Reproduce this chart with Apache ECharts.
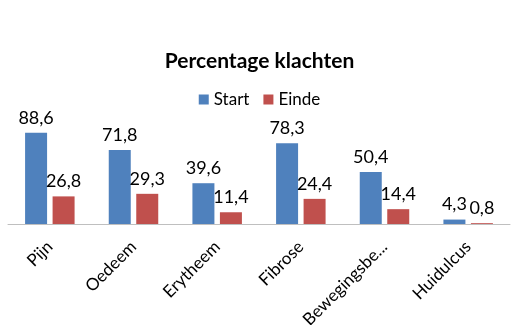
<!DOCTYPE html>
<html>
<head>
<meta charset="utf-8">
<script src="https://cdn.jsdelivr.net/npm/echarts@6/dist/echarts.min.js"></script>
<style>
  html, body { margin: 0; padding: 0; background: #fff; }
  #main { width: 519px; height: 325px; }
</style>
</head>
<body>
<div id="main"></div>
<script>
var categories = ['Pijn', 'Oedeem', 'Erytheem', 'Fibrose', 'Bewegingsbe...', 'Huidulcus'];
var startValues = [88.6, 71.8, 39.6, 78.3, 50.4, 4.3];
var eindeValues = [26.8, 29.3, 11.4, 24.4, 14.4, 0.8];

var font = 'Lato, "Open Sans", sans-serif';

function fmt(p) {
    return String(p.value).replace('.', ',');
}

var myChart = echarts.init(document.getElementById('main'));

option = {
    animation: false,
    textStyle: { fontFamily: font },
    title: {
        text: 'Percentage klachten',
        left: 'center',
        top: 46,
        textStyle: { fontSize: 21, fontWeight: 'bold', color: '#000', fontFamily: font }
    },
    legend: {
        top: 86,
        left: 'center',
        itemWidth: 10,
        itemHeight: 10,
        itemGap: 14,
        icon: 'rect',
        textStyle: { fontSize: 17, color: '#000', fontFamily: font },
        data: ['Start', 'Einde']
    },
    grid: { left: 8, right: 9, top: 121, bottom: 101, containLabel: false, outerBoundsMode: 'none' },
    xAxis: {
        type: 'category',
        data: categories,
        axisLine: { lineStyle: { color: '#bfbfbf' } },
        axisTick: { show: false },
        axisLabel: { rotate: 45, margin: 20, fontSize: 17, color: '#000', interval: 0, fontFamily: font }
    },
    yAxis: {
        type: 'value',
        min: 0,
        max: 100,
        show: false
    },
    series: [
        {
            name: 'Start',
            type: 'bar',
            data: startValues,
            barWidth: 22,
            barGap: '25%',
            itemStyle: { color: '#4f81bd' },
            label: { show: true, position: 'top', distance: 6, fontSize: 18, color: '#000', formatter: fmt, fontFamily: font }
        },
        {
            name: 'Einde',
            type: 'bar',
            data: eindeValues,
            barWidth: 22,
            itemStyle: { color: '#c0504d' },
            label: { show: true, position: 'top', distance: 6, fontSize: 18, color: '#000', formatter: fmt, fontFamily: font }
        }
    ]
};

myChart.setOption(option);
</script>
</body>
</html>
